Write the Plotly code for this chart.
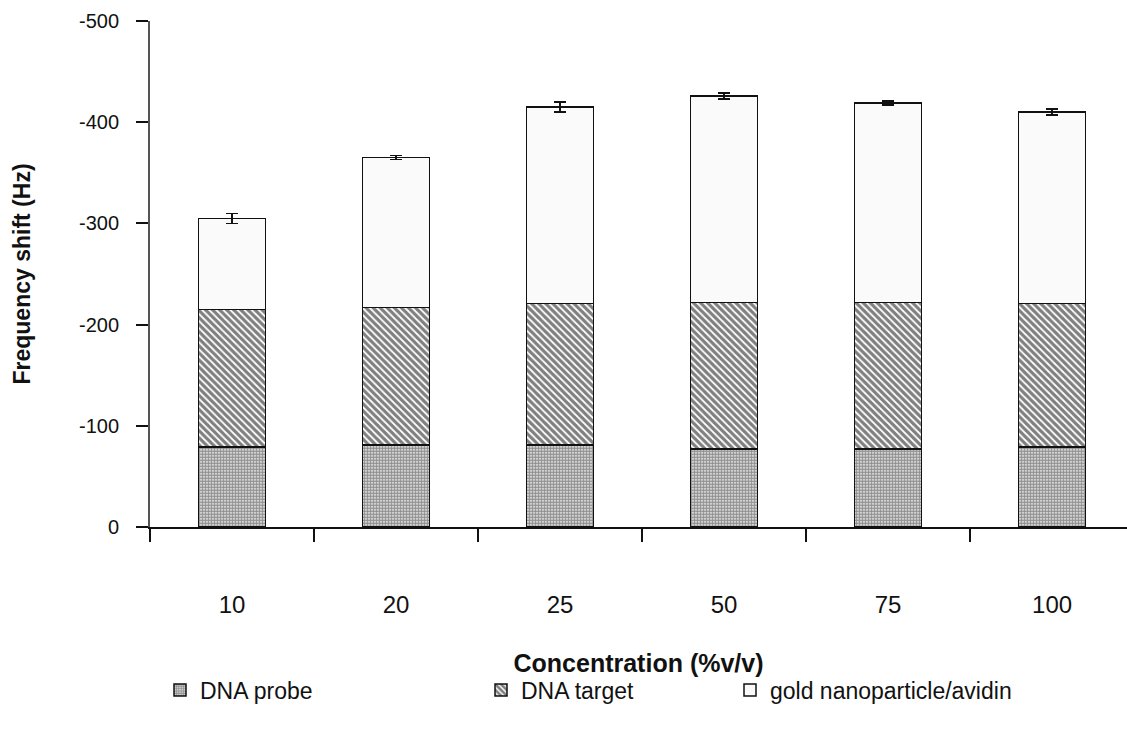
import plotly.graph_objects as go

categories = ["10", "20", "25", "50", "75", "100"]
dna_probe = [-79, -81, -81, -77, -77, -79]
dna_target = [-136, -136, -140, -145, -145, -142]
gold_avidin = [-90, -148, -194, -204, -197, -189]
gold_err = [5, 2, 5, 3, 2, 3]

FONT = "Liberation Sans, Arial, sans-serif"

fig = go.Figure()
fig.add_trace(go.Bar(
    x=categories, y=dna_probe, name="DNA probe", legend="legend", showlegend=True,
    marker=dict(color="white", line=dict(color="#111", width=1.5),
                pattern=dict(shape=".", size=3, solidity=0.75, fgcolor="#222", bgcolor="white")),
    width=0.41,
))
fig.add_trace(go.Bar(
    x=categories, y=dna_target, name="DNA target", legend="legend2", showlegend=True,
    marker=dict(color="white", line=dict(color="#111", width=1.5),
                pattern=dict(shape="\\", size=5, solidity=0.65, fgcolor="#000", bgcolor="white")),
    width=0.41,
))
fig.add_trace(go.Bar(
    x=categories, y=gold_avidin, name="gold nanoparticle/avidin", legend="legend3", showlegend=True,
    marker=dict(color="#fafafa", line=dict(color="#111", width=1.5)),
    width=0.41,
    error_y=dict(type="data", array=gold_err, color="#111", thickness=1.5, width=6),
))

common_leg = dict(orientation="h", xanchor="left", yanchor="middle",
                  font=dict(size=23, color="#111"), bgcolor="rgba(0,0,0,0)", itemwidth=30)
ypos = (733 - 690 - 206) / (733 - 21 - 206)

fig.update_layout(
    barmode="stack",
    showlegend=True,
    width=1127, height=733,
    margin=dict(l=150, r=0, t=21, b=206),
    plot_bgcolor="white", paper_bgcolor="white",
    font=dict(family=FONT, size=20, color="#111"),
    xaxis=dict(
        range=[-0.5, 5.457],
        showline=True, linecolor="#111", linewidth=1.5,
        ticks="outside", tickson="boundaries", ticklen=13, tickcolor="#111", tickwidth=1.5,
        ticklabelstandoff=55,
        tickfont=dict(size=24),
        title=dict(text="<b>Concentration (%v/v)</b>", font=dict(size=25), standoff=38),
        showgrid=False, zeroline=False,
    ),
    yaxis=dict(
        range=[0, -500],
        tickvals=[0, -100, -200, -300, -400, -500],
        ticktext=["0", "-100", "-200", "-300", "-400", "-500"],
        showline=True, linecolor="#555", linewidth=2,
        ticks="outside", ticklen=12, tickcolor="#111", tickwidth=1.5,
        ticklabelstandoff=13,
        tickfont=dict(size=20),
        title=dict(text="<b>Frequency shift (Hz)</b>", font=dict(size=23), standoff=42),
        showgrid=False, zeroline=False,
    ),
    legend=dict(common_leg, x=(160 - 150) / 977, y=ypos),
    legend2=dict(common_leg, x=(481 - 150) / 977, y=ypos),
    legend3=dict(common_leg, x=(730 - 150) / 977, y=ypos),
)

fig.write_html("out.html")
